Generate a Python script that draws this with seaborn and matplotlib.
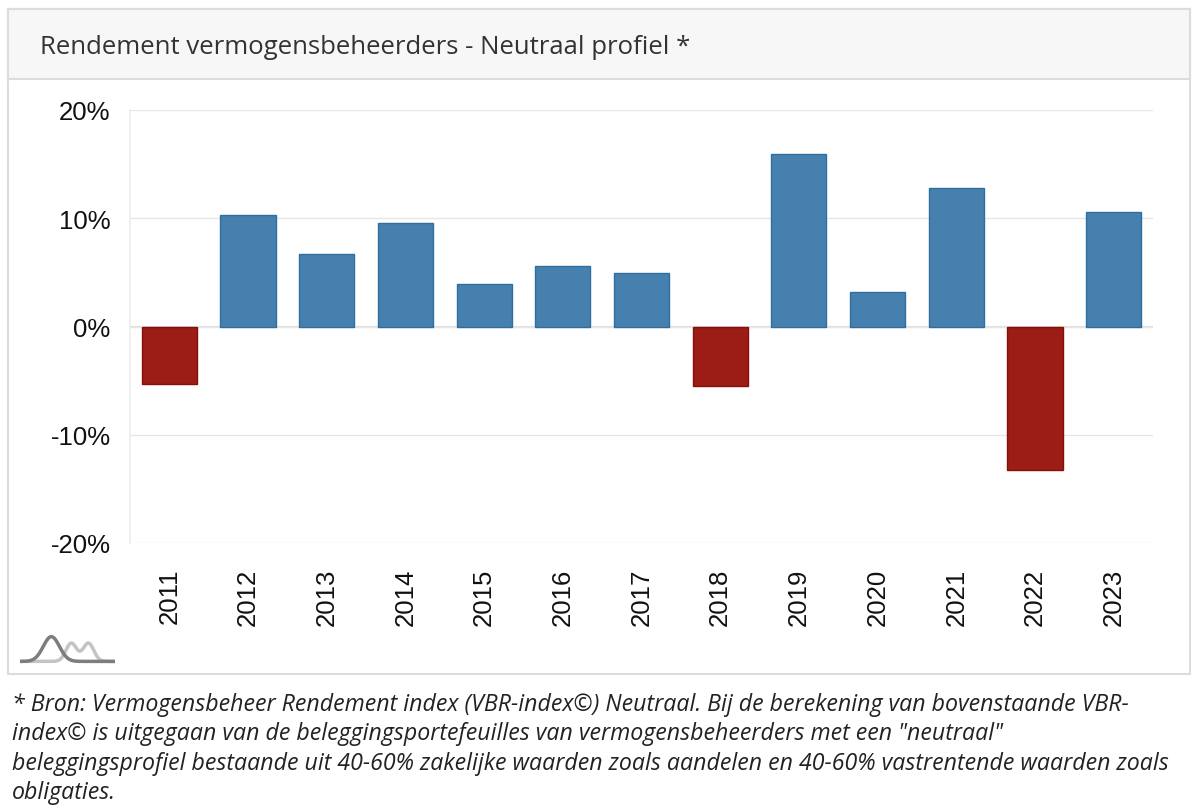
import numpy as np
import pandas as pd
import matplotlib
matplotlib.use('Agg')
import matplotlib.pyplot as plt
from matplotlib.patches import Rectangle
import seaborn as sns

# Data (annual return, %)
years = ['2011', '2012', '2013', '2014', '2015', '2016', '2017',
         '2018', '2019', '2020', '2021', '2022', '2023']
returns = [-5.3, 10.3, 6.7, 9.6, 3.9, 5.6, 4.9, -5.5, 15.9, 3.2, 12.8, -13.3, 10.6]
y_ticks = [-20, -10, 0, 10, 20]

title_text = 'Rendement vermogensbeheerders - Neutraal profiel *'
footnote_lines = [
    '* Bron: Vermogensbeheer Rendement index (VBR-index©) Neutraal. Bij de berekening van bovenstaande VBR-',
    'index© is uitgegaan van de beleggingsportefeuilles van vermogensbeheerders met een "neutraal"',
    'beleggingsprofiel bestaande uit 40-60% zakelijke waarden zoals aandelen en 40-60% vastrentende waarden zoals',
    'obligaties.',
]

df = pd.DataFrame({'year': years, 'ret': returns})
df['sign'] = np.where(df.ret < 0, 'neg', 'pos')

sns.set_theme(style='white')
plt.rcParams['font.family'] = ['Liberation Sans', 'DejaVu Sans']

fig = plt.figure(figsize=(12, 8.12), dpi=100)

# outer card and header strip (behind the axes)
border = '#dcdcdc'
fig.patches.append(Rectangle((8 / 1200, 1 - 675 / 812), 1182 / 1200, 665 / 812,
                             transform=fig.transFigure, facecolor='white',
                             edgecolor=border, lw=1.5, zorder=-2))
fig.patches.append(Rectangle((8 / 1200, 1 - 80 / 812), 1182 / 1200, 70 / 812,
                             transform=fig.transFigure, facecolor='#f7f7f7',
                             edgecolor=border, lw=1.5, zorder=-1))
fig.text(40 / 1200, 1 - 47 / 812, title_text, fontsize=18.5, family='Open Sans',
         color='#333333', va='center', ha='left')

ax = fig.add_axes([130 / 1200, 1 - 544 / 812, 1023 / 1200, 433 / 812])
ax.set_facecolor('none')
sns.barplot(data=df, x='year', y='ret', hue='sign', dodge=False, width=0.7,
            palette={'pos': '#4680ae', 'neg': '#9c1d15'}, saturation=1,
            legend=False, ax=ax, linewidth=0)
for bar in ax.patches:
    bar.set_edgecolor('#2f6f9f' if bar.get_height() >= 0 else '#860f0a')
    bar.set_linewidth(1)

ax.set_ylim(-20, 20)
ax.set_yticks(y_ticks)
ax.set_yticklabels([f'{t}%' for t in y_ticks], fontsize=18.5, color='#111111')
ax.set_xlim(-0.5, len(years) - 0.5)
ax.tick_params(axis='x', labelrotation=90, labelsize=18.5, colors='#111111', pad=12)
ax.tick_params(axis='y', pad=8)
ax.set_xlabel('')
ax.set_ylabel('')
ax.yaxis.grid(True, color='#e6e6e6', lw=1)
ax.set_axisbelow(True)
for side in ['top', 'right', 'bottom']:
    ax.spines[side].set_visible(False)
ax.spines['left'].set_color('#eeeeee')
ax.axhline(0, color='#e0e0e0', lw=1.5, zorder=0.5)

# small logo bottom left: two bell curves
logo = fig.add_axes([20 / 1200, 1 - 665 / 812, 95 / 1200, 30 / 812])
xs = np.linspace(0, 10, 200)
light = 0.1 + 0.7 * np.exp(-((xs - 5.4) / 0.8) ** 2) + 0.7 * np.exp(-((xs - 7.2) / 0.8) ** 2)
dark = 0.1 + 0.95 * np.exp(-((xs - 3.3) / 1.2) ** 2)
logo.plot(xs, light, color='#c4c4c4', lw=2.5)
logo.plot(xs, dark, color='#7d7d7d', lw=2.5)
logo.set_xlim(0, 10)
logo.set_ylim(0, 1.15)
logo.axis('off')

# footnote
for i, line in enumerate(footnote_lines):
    fig.text(12 / 1200, 1 - (705 + i * 29.5) / 812, line, fontsize=16.7,
             family='Open Sans', style='italic', color='#222222',
             va='center', ha='left')

fig.savefig('out.png', dpi=100)
